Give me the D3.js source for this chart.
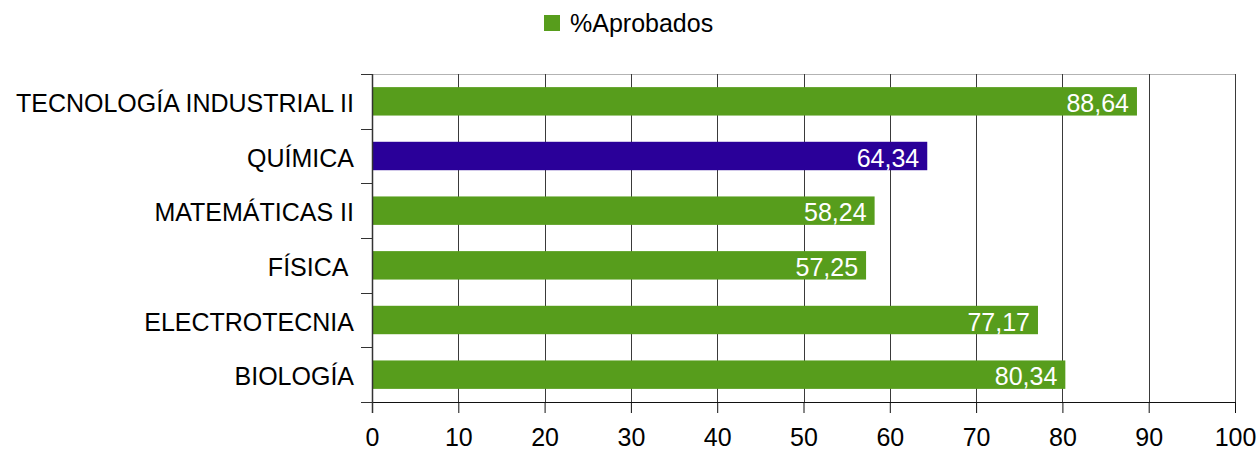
<!DOCTYPE html>
<html><head><meta charset="utf-8">
<script src="https://cdn.jsdelivr.net/npm/d3@7/dist/d3.min.js"></script>
<style>body{margin:0;background:#fff}svg text{font-family:"Liberation Sans",Arial,sans-serif;white-space:pre}</style>
</head><body>
<svg id="c" width="1260" height="451"></svg>
<script>
const categories = ["TECNOLOGÍA INDUSTRIAL II","QUÍMICA","MATEMÁTICAS II","FÍSICA ","ELECTROTECNIA","BIOLOGÍA"];
const values = [88.64,64.34,58.24,57.25,77.17,80.34];
const highlight = ["QUÍMICA"];
const xTicks = [0,10,20,30,40,50,60,70,80,90,100];
const seriesName = "%Aprobados";

const FS = 25;
const svg = d3.select("#c");
const L=372,R=1235,T=74,B=402;
const x = d3.scaleLinear().domain([0,100]).range([L,R]);
const y = d3.scaleBand().domain(categories).range([T,B]).paddingInner(0.48).paddingOuter(0.24);
const fmt = v => v.toFixed(2).replace(".",",");

// top border
svg.append("line").attr("x1",L).attr("x2",R).attr("y1",T+0.5).attr("y2",T+0.5).attr("stroke","#b3b3b3").attr("stroke-width",1);
// grid
svg.append("g").selectAll("line").data(xTicks.slice(1)).join("line")
  .attr("x1",d=>Math.round(x(d))+0.5).attr("x2",d=>Math.round(x(d))+0.5)
  .attr("y1",T).attr("y2",B).attr("stroke","#3a3a3a").attr("stroke-width",1);

// bars
svg.append("g").selectAll("rect").data(categories).join("rect")
  .attr("x",x(0)).attr("y",d=>y(d)).attr("height",y.bandwidth())
  .attr("width",(d,i)=>x(values[i])-x(0))
  .attr("fill",d=>highlight.includes(d)?"#2a0099":"#579d1c");
svg.append("g").selectAll("text").data(categories).join("text")
  .attr("x",(d,i)=>x(values[i])-8).attr("y",d=>y(d)+y.bandwidth()/2)
  .attr("dy","0.42em").attr("text-anchor","end").attr("fill","#fff")
  .attr("font-size",FS).text((d,i)=>fmt(values[i]));

// x axis
const xa = svg.append("g").attr("transform",`translate(0,${B})`)
  .call(d3.axisBottom(x).tickValues(xTicks).tickSize(11).tickPadding(15).tickFormat(d=>d));
xa.select(".domain").attr("stroke","#111").attr("d",`M${L},0.5H${R}`);
xa.selectAll(".tick line").attr("stroke","#111");
xa.selectAll(".tick text").attr("font-size",FS).attr("fill","#000").attr("font-family",null);

// y axis
const yBounds = d3.range(categories.length+1).map(i=>T+i*(B-T)/categories.length);
const ya = svg.append("g");
ya.append("line").attr("x1",L+0.5).attr("x2",L+0.5).attr("y1",T).attr("y2",B+11).attr("stroke","#333").attr("stroke-width",1.5);
ya.selectAll("line.tk").data(yBounds).join("line").attr("class","tk")
  .attr("x1",L-11).attr("x2",L).attr("y1",d=>Math.round(d)+0.5).attr("y2",d=>Math.round(d)+0.5).attr("stroke","#333");
ya.selectAll("text").data(categories).join("text")
  .attr("x",L-18).attr("y",d=>y(d)+y.bandwidth()/2).attr("dy","0.42em")
  .attr("text-anchor","end").attr("font-size",FS).attr("fill","#000").text(d=>d);

// legend
const lg = svg.append("g");
lg.append("rect").attr("x",544).attr("y",15).attr("width",16).attr("height",16).attr("fill","#579d1c");
lg.append("text").attr("x",570).attr("y",31.5).attr("font-size",FS).attr("fill","#000").text(seriesName);
</script>
</body></html>
